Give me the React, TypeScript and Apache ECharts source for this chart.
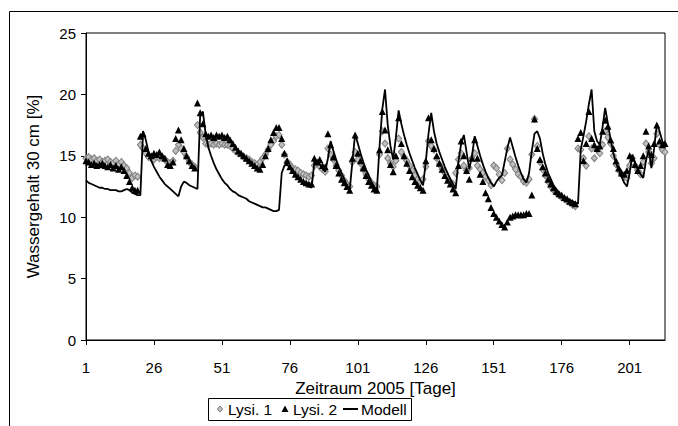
import React, { useEffect, useRef } from "react";
import * as echarts from "echarts";

// Tage 1..214 (Zeitraum 2005)
const dayCount = 214;
const days: string[] = Array.from({ length: dayCount }, (_, i) => String(i + 1));

const yTicks = { min: 0, max: 25, interval: 5 };

// Lysi. 1 (Rauten)
const lysi1: number[] = [
  14.8, 14.9, 14.7, 14.8, 14.6, 14.7, 14.5, 14.6, 14.7, 14.5,
  14.4, 14.6, 14.3, 14.5, 14.2, 14.0, 13.6, 13.2, 13.4, 13.3,
  15.9, 15.6, 15.2, 14.9, 14.8, 14.7, 14.9, 14.8, 14.9, 14.7,
  14.5, 14.4, 14.6, 15.4, 15.9, 15.6, 15.3, 14.9, 14.5, 14.3, 14.1,
  17.5, 16.9, 16.5, 16.0, 15.9, 16.0, 15.9, 16.0, 15.9,
  16.0, 15.9, 15.9, 15.8, 15.6, 15.4, 15.2, 15.1, 14.9, 14.8,
  14.7, 14.5, 14.4, 14.3, 14.5, 14.8, 15.1, 15.5, 15.9, 16.2,
  16.6, 16.7, 15.9, 15.1, 14.5, 14.3, 14.0, 13.9, 13.8, 13.6,
  13.5, 13.4, 13.3, 13.4, 14.2, 14.4, 14.1, 13.9, 13.7, 15.6,
  15.1, 14.7, 14.2, 13.8, 13.4, 13.0, 12.7, 12.5, 14.5, 15.3,
  14.7, 14.4, 13.9, 13.5, 13.1, 12.8, 12.6, 12.5, 15.1, 17.0,
  16.0, 14.8, 14.4, 14.1, 14.6, 16.4, 15.3, 14.9, 14.6, 14.2,
  13.8, 13.4, 13.1, 12.9, 13.1, 14.1, 16.2, 15.8, 15.5, 14.8,
  14.3, 13.9, 13.6, 13.2, 12.9, 12.7, 13.6, 14.7, 15.2, 14.2,
  13.8, 14.0, 14.8, 15.2, 14.2, 13.9, 13.6, 13.3, 13.0, 12.6,
  14.2, 14.0, 13.5, 13.0, 13.6, 15.6, 14.7, 14.3, 13.9, 13.5,
  13.3, 12.9, 12.8, 13.1, 15.1, 18.0, 15.8, 14.5, 13.9, 13.4,
  12.9, 12.5, 12.2, 12.0, 11.8, 11.6, 11.5, 11.3, 11.2, 11.0,
  10.9, 15.6, 15.5, 14.8, 14.2, 16.6, 15.6, 14.8, 15.5, 15.2,
  15.9, 17.0, 16.5, 16.0, 15.0, 14.3, 13.8, 13.5, 13.3, 13.2,
  14.2, 14.8, 14.2, 13.8, 13.5, 14.5, 16.0, 15.3, 14.4, 14.8,
  16.8, 15.9, 15.5, 15.3,
];

// Lysi. 2 (Dreiecke)
const lysi2: number[] = [
  14.6, 14.5, 14.3, 14.4, 14.2, 14.3, 14.4, 14.2, 14.1, 14.3,
  14.0, 14.2, 13.9, 14.1, 13.8, 13.4, 12.9, 12.4, 12.2, 12.2,
  16.6, 16.8, 15.6, 15.2, 15.0, 15.2, 15.1, 15.3, 15.0, 14.8,
  14.3, 14.2, 14.5, 16.4, 17.1, 16.3, 15.6, 15.0, 14.6, 14.2, 14.0,
  19.3, 18.5, 17.6, 16.8, 16.6, 16.7, 16.5, 16.7, 16.6,
  16.7, 16.5, 16.6, 16.3, 16.0, 15.7, 15.4, 15.2, 15.0, 14.8,
  14.6, 14.4, 14.2, 14.0, 13.9, 14.3, 15.0, 15.6, 16.3, 16.9,
  17.3, 17.3, 16.4, 15.2, 14.6, 14.1, 13.8, 13.5, 13.3, 13.1,
  12.9, 12.8, 12.7, 12.7, 14.8, 14.5, 14.7, 14.2, 14.1, 16.8,
  15.9, 14.9, 14.2, 13.6, 13.1, 12.8, 12.5, 12.2, 14.8, 16.7,
  15.2, 14.6, 14.0, 13.4, 12.9, 12.6, 12.3, 12.2, 15.5, 18.6,
  17.1, 15.5, 14.3, 13.7, 15.0, 18.1, 16.0, 15.0, 14.4, 13.8,
  13.3, 12.9, 12.6, 12.4, 12.2, 14.6, 18.1, 16.3, 15.6, 15.0,
  14.4, 13.9, 13.4, 13.0, 12.7, 12.3, 12.0, 14.2, 16.2, 15.0,
  13.8, 13.1, 14.8, 16.3, 14.8, 13.5, 12.9, 12.0, 11.5, 10.8,
  10.3, 10.0, 9.7, 9.4, 9.2, 9.6, 10.0, 10.1, 10.2, 10.2,
  10.2, 10.2, 10.3, 10.3, 11.8, 18.0, 15.6, 14.7, 14.1, 13.6,
  13.1, 12.7, 12.4, 12.1, 11.9, 11.8, 11.6, 11.5, 11.3, 11.2,
  11.1, 16.4, 16.9, 14.6, 16.0, 18.6, 16.4, 15.9, 15.6, 15.8,
  17.0, 17.9, 17.4, 16.3, 15.6, 14.6, 14.0, 13.6, 13.5, 13.8,
  15.0, 14.8, 14.3, 13.8, 14.2, 15.0, 17.0, 15.8, 15.1, 16.0,
  17.5, 16.2, 15.9, 16.0,
];

// Modell (Linie)
const modell: number[] = [
  13.0, 12.8, 12.7, 12.6, 12.5, 12.4, 12.4, 12.3, 12.3, 12.2,
  12.2, 12.2, 12.1, 12.1, 12.2, 12.3, 12.2, 12.0, 11.9, 11.8,
  11.8, 17.0, 16.3, 15.3, 14.6, 14.1, 13.7, 13.3, 13.0, 12.7,
  12.5, 12.3, 12.1, 11.9, 11.7, 12.5, 12.9, 12.8, 12.6, 12.5, 12.4,
  12.3, 18.3, 18.6, 16.8, 15.7, 15.0, 14.4, 13.9, 13.5,
  13.1, 12.8, 12.6, 12.3, 12.1, 12.0, 11.8, 11.7, 11.6, 11.5,
  11.3, 11.2, 11.1, 11.0, 10.9, 10.8, 10.8, 10.7, 10.6, 10.5,
  10.5, 10.6, 13.6, 14.2, 14.3, 14.0, 13.7, 13.4, 13.2, 13.0,
  12.8, 12.6, 12.5, 12.4, 14.5, 14.6, 14.3, 14.0, 13.7, 14.8,
  16.2, 15.4, 14.7, 14.1, 13.6, 13.1, 12.6, 12.2, 14.5, 16.8,
  16.0, 15.2, 14.5, 13.9, 13.4, 12.9, 12.5, 12.2, 15.8, 18.8,
  20.4, 17.5, 15.8, 14.7, 16.5, 18.7, 17.6, 16.7, 15.9, 15.2,
  14.6, 14.0, 13.5, 13.0, 12.6, 14.5, 16.8, 18.5, 17.0, 16.0,
  15.3, 14.7, 14.1, 13.6, 13.1, 12.7, 12.3, 14.5, 16.0, 16.7,
  15.3, 13.9, 15.0, 16.6, 15.8, 15.0, 14.3, 13.7, 13.2, 12.8,
  12.5, 12.9, 13.2, 13.4, 14.5, 15.6, 16.5, 15.7, 14.9, 14.2,
  13.6, 13.1, 12.8, 13.6, 15.4, 16.8, 17.0, 16.4, 15.2, 14.3,
  13.6, 13.1, 12.6, 12.3, 12.0, 11.8, 11.6, 11.5, 11.4, 11.3,
  11.2, 11.1, 15.5, 16.6, 17.8, 19.2, 20.4, 17.0, 16.2, 15.9,
  17.3, 18.9, 17.6, 16.3, 15.2, 14.4, 13.8, 13.3, 12.8, 12.5,
  13.6, 15.1, 14.4, 13.9, 13.5, 13.2, 14.6, 15.5, 14.0, 15.6,
  17.6, 17.0, 16.2, 15.8,
];

const seriesNames = ["Lysi. 1", "Lysi. 2", "Modell"];
const xTitle = "Zeitraum 2005 [Tage]";
const yTitle = "Wassergehalt 30 cm [%]";

const FONT = "'Liberation Sans', Arial, sans-serif";
const DIAMOND_FILL = "#c0c0c0";
const DIAMOND_STROKE = "#7f7f7f";

export default function App() {
  const ref = useRef<HTMLDivElement>(null);

  useEffect(() => {
    document.body.style.margin = "0";
    const chart = echarts.init(ref.current!, null, { renderer: "svg" });
    const legendY = 409;
    const legendText = (text: string, x: number) => ({
      type: "text",
      x,
      y: legendY,
      style: {
        text,
        fill: "#000",
        font: `15.5px ${FONT}`,
        textAlign: "left",
        textVerticalAlign: "middle",
      },
      silent: true,
    });
    chart.setOption({
      animation: false,
      backgroundColor: "#fff",
      textStyle: { fontFamily: FONT, color: "#000" },
      graphic: [
        {
          type: "rect",
          shape: { x: 9.5, y: 11.5, width: 900, height: 700 },
          style: { fill: "none", stroke: "#000", lineWidth: 1 },
          silent: true,
        },
        // legend
        {
          type: "rect",
          shape: { x: 208.5, y: 398.5, width: 203, height: 22 },
          style: { fill: "#fff", stroke: "#000", lineWidth: 1 },
          silent: true,
        },
        {
          type: "polygon",
          shape: { points: [[220, 406], [222.6, 409], [220, 412], [217.4, 409]] },
          style: { fill: DIAMOND_FILL, stroke: DIAMOND_STROKE, lineWidth: 1 },
          silent: true,
        },
        legendText(seriesNames[0], 228),
        {
          type: "polygon",
          shape: { points: [[285, 405.5], [288.5, 412], [281.5, 412]] },
          style: { fill: "#000" },
          silent: true,
        },
        legendText(seriesNames[1], 293),
        {
          type: "line",
          shape: { x1: 343, y1: legendY, x2: 358, y2: legendY },
          style: { stroke: "#000", lineWidth: 2 },
          silent: true,
        },
        legendText(seriesNames[2], 361),
      ],
      grid: {
        left: 86,
        right: 13,
        top: 33,
        bottom: 86,
        show: true,
        borderColor: "#000",
        borderWidth: 1,
        backgroundColor: "transparent",
      },
      xAxis: {
        type: "category",
        data: days,
        boundaryGap: false,
        axisLine: { lineStyle: { color: "#000", width: 1 } },
        axisTick: { interval: 24, length: 5, lineStyle: { color: "#000" } },
        axisLabel: {
          interval: 24,
          color: "#000",
          fontSize: 15,
          fontFamily: FONT,
          margin: 20,
        },
        splitLine: { show: false },
        name: xTitle,
        nameLocation: "middle",
        nameGap: 29,
        nameTextStyle: { fontSize: 17, fontFamily: FONT, color: "#000" },
      },
      yAxis: {
        type: "value",
        min: yTicks.min,
        max: yTicks.max,
        interval: yTicks.interval,
        axisLine: { show: true, lineStyle: { color: "#000", width: 1 } },
        axisTick: { show: true, length: 5, lineStyle: { color: "#000" } },
        axisLabel: { color: "#000", fontSize: 15, fontFamily: FONT, margin: 10 },
        splitLine: { show: false },
        name: yTitle,
        nameLocation: "middle",
        nameGap: 44,
        nameRotate: 90,
        nameTextStyle: { fontSize: 17, fontFamily: FONT, color: "#000" },
      },
      series: [
        {
          name: seriesNames[0],
          type: "scatter",
          data: lysi1,
          symbol: "diamond",
          symbolSize: [6, 7],
          itemStyle: { color: DIAMOND_FILL, borderColor: DIAMOND_STROKE, borderWidth: 1, opacity: 1 },
          z: 2,
        },
        {
          name: seriesNames[1],
          type: "scatter",
          data: lysi2,
          symbol: "triangle",
          symbolSize: 7,
          itemStyle: { color: "#000", opacity: 1 },
          z: 3,
        },
        {
          name: seriesNames[2],
          type: "line",
          data: modell,
          showSymbol: false,
          symbol: "none",
          lineStyle: { color: "#000", width: 1.8 },
          itemStyle: { color: "#000" },
          z: 4,
        },
      ],
    });
    return () => chart.dispose();
  }, []);

  return <div ref={ref} style={{ width: 678, height: 426 }} />;
}
